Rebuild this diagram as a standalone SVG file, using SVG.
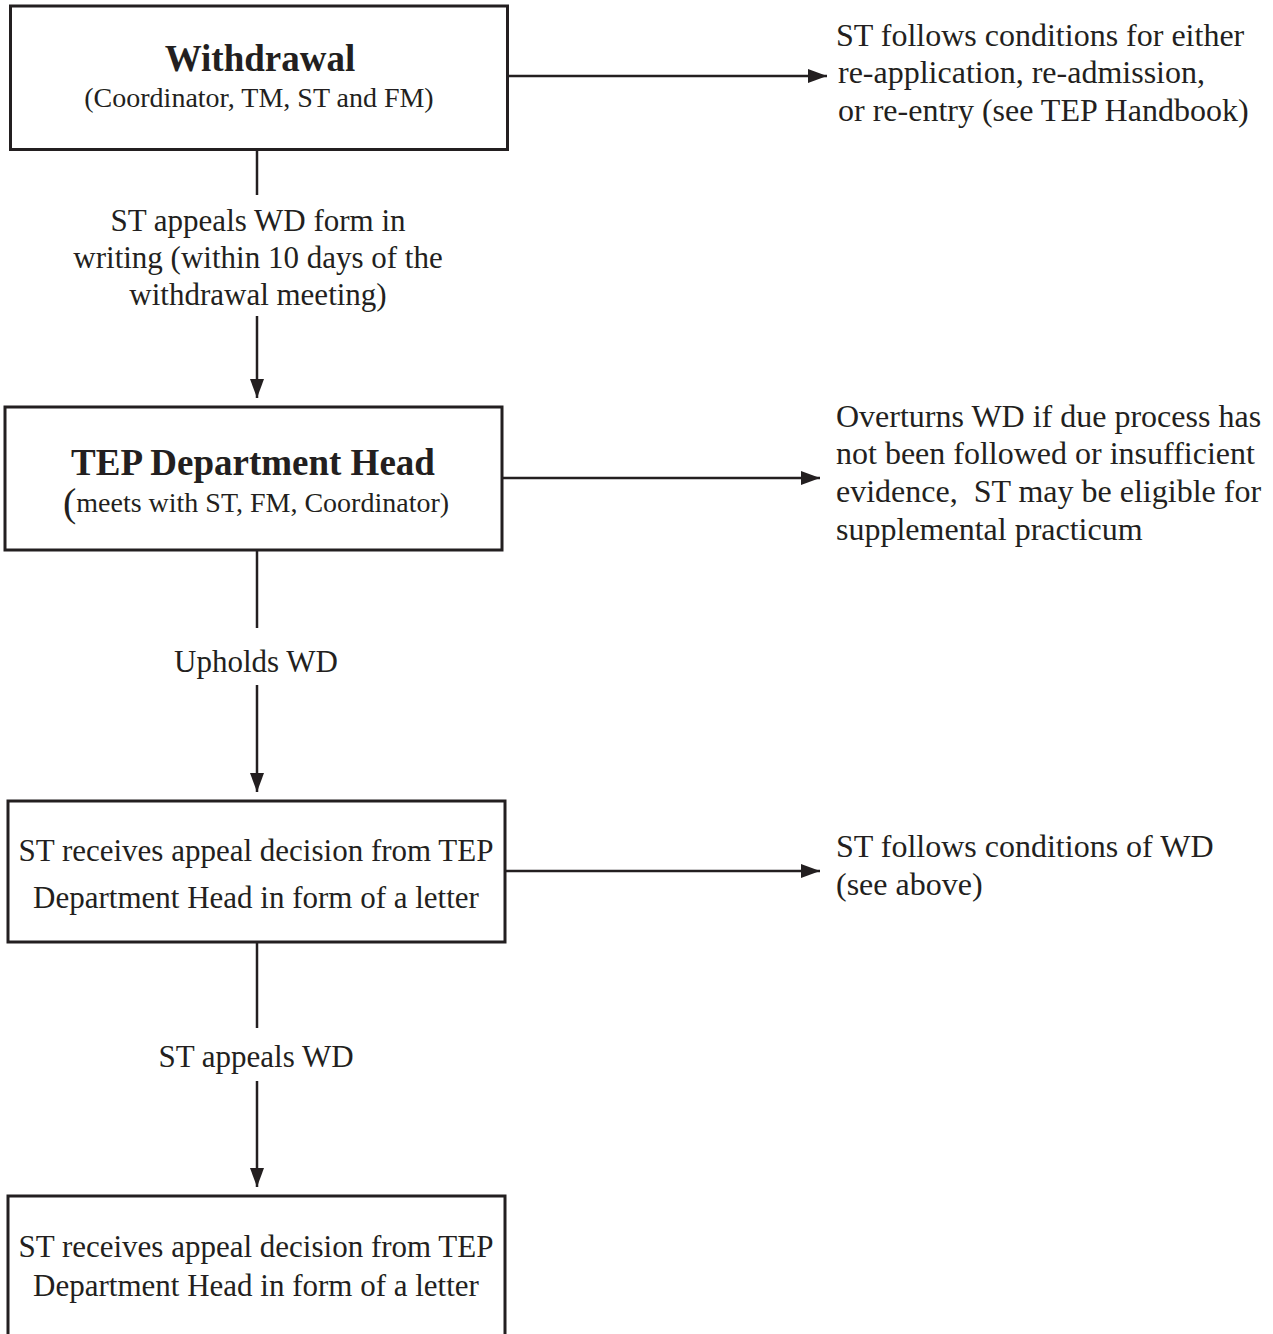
<svg xmlns="http://www.w3.org/2000/svg" width="1273" height="1334" viewBox="0 0 1273 1334">
<style>
  .box { fill: #ffffff; stroke: #231f20; stroke-width: 3; }
  .t { font-family: "Liberation Serif", "Times New Roman", serif; fill: #231f20; }
  .title { font-weight: bold; font-size: 37px; text-anchor: middle; }
  .sub { font-size: 28px; text-anchor: middle; }
  .body { font-size: 31px; text-anchor: middle; }
  .lbl { font-size: 31px; text-anchor: middle; }
  .side { font-size: 32px; white-space: pre; }
  .conn { stroke: #231f20; stroke-width: 2.5; fill: none; }
</style>
<defs>
  <marker id="arrow" viewBox="0 0 19 14" refX="19" refY="7" markerWidth="19" markerHeight="14" markerUnits="userSpaceOnUse" orient="auto">
    <path d="M0,0 L19,7 L0,14 z" fill="#231f20"/>
  </marker>
</defs>
<rect width="1273" height="1334" fill="#ffffff"/>

<g id="connectors">
  <line class="conn" x1="507.5" y1="76" x2="827" y2="76" marker-end="url(#arrow)"/>
  <line class="conn" x1="257" y1="149.5" x2="257" y2="195"/>
  <line class="conn" x1="257" y1="316" x2="257" y2="398" marker-end="url(#arrow)"/>
  <line class="conn" x1="502" y1="478" x2="820" y2="478" marker-end="url(#arrow)"/>
  <line class="conn" x1="257" y1="550" x2="257" y2="628"/>
  <line class="conn" x1="257" y1="685" x2="257" y2="792" marker-end="url(#arrow)"/>
  <line class="conn" x1="505" y1="871" x2="820" y2="871" marker-end="url(#arrow)"/>
  <line class="conn" x1="257" y1="942" x2="257" y2="1028"/>
  <line class="conn" x1="257" y1="1081" x2="257" y2="1187" marker-end="url(#arrow)"/>
  <g id="connector-labels">
    <text class="t lbl" x="258" y="231">ST appeals WD form in</text>
    <text class="t lbl" x="258" y="268">writing (within 10 days of the</text>
    <text class="t lbl" x="258" y="305">withdrawal meeting)</text>
    <text class="t lbl" x="256" y="672">Upholds WD</text>
    <text class="t lbl" x="256" y="1067">ST appeals WD</text>
  </g>
</g>

<g id="node-withdrawal">
  <rect class="box" x="10.5" y="6" width="497" height="143.5"/>
  <text class="t title" x="260" y="71">Withdrawal</text>
  <text class="t sub" x="259" y="107" font-size="28.5px">(Coordinator, TM, ST and FM)</text>
</g>

<g id="node-withdrawal-outcome">
  <text class="t side" x="836" y="46">ST follows conditions for either</text>
  <text class="t side" x="838" y="83">re-application, re-admission,</text>
  <text class="t side" x="838" y="121">or re-entry (see TEP Handbook)</text>
</g>

<g id="node-department-head">
  <rect class="box" x="5" y="407" width="497" height="143"/>
  <text class="t title" x="253" y="475">TEP Department Head</text>
  <text class="t sub" x="256" y="512"><tspan font-size="40px" dy="4">(</tspan><tspan dy="-4">meets with ST, FM, Coordinator)</tspan></text>
</g>

<g id="node-overturn">
  <text class="t side" x="836" y="427">Overturns WD if due process has</text>
  <text class="t side" x="836" y="464">not been followed or insufficient</text>
  <text class="t side" x="836" y="502" xml:space="preserve">evidence,  ST may be eligible for</text>
  <text class="t side" x="836" y="540">supplemental practicum</text>
</g>

<g id="node-decision-1">
  <rect class="box" x="8" y="801" width="497" height="141"/>
  <text class="t body" x="256" y="861">ST receives appeal decision from TEP</text>
  <text class="t body" x="256" y="908">Department Head in form of a letter</text>
</g>

<g id="node-follow-wd">
  <text class="t side" x="836" y="857">ST follows conditions of WD</text>
  <text class="t side" x="836" y="895">(see above)</text>
</g>

<g id="node-decision-2">
  <rect class="box" x="8" y="1196" width="497" height="200"/>
  <text class="t body" x="256" y="1257">ST receives appeal decision from TEP</text>
  <text class="t body" x="256" y="1296">Department Head in form of a letter</text>
</g>
</svg>
